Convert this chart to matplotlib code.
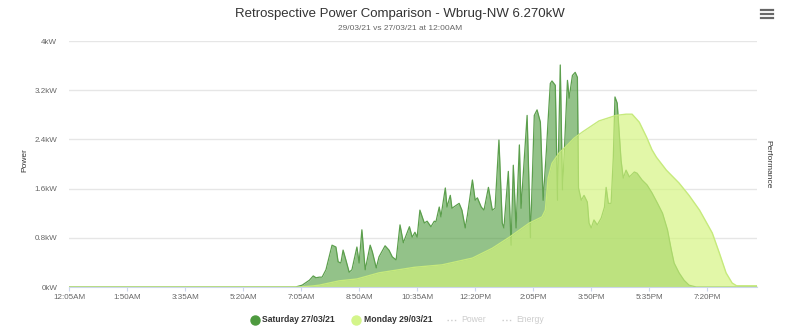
# -*- coding: utf-8 -*-
import numpy as np
import matplotlib
matplotlib.use("Agg")
import matplotlib.pyplot as plt
from matplotlib.lines import Line2D

plt.rcParams['font.family'] = ['Liberation Sans', 'DejaVu Sans']

# =====================
# data (kW)
# =====================
sat_times = ["00:05", "06:55", "07:07", "07:20", "07:27", "07:32", "07:38", "07:43", "07:50",
             "08:01", "08:08", "08:12", "08:17", "08:21", "08:26", "08:32", "08:37", "08:46",
             "08:50", "08:55", "09:01", "09:10", "09:14", "09:21", "09:26", "09:37", "09:44",
             "09:50", "09:57", "10:04", "10:10", "10:21", "10:26", "10:31", "10:35", "10:40",
             "10:48", "10:53", "11:00", "11:06", "11:09", "11:15", "11:18", "11:26", "11:29",
             "11:35", "11:38", "11:46", "11:51", "11:56", "12:02", "12:06", "12:15", "12:20",
             "12:24", "12:31", "12:36", "12:44", "12:51", "12:56", "13:03", "13:09", "13:12",
             "13:20", "13:25", "13:29", "13:34", "13:40", "13:43", "13:54", "14:00", "14:07",
             "14:12", "14:18", "14:23", "14:29", "14:32", "14:36", "14:39", "14:45", "14:49",
             "14:54", "14:58", "15:01", "15:07", "15:10", "15:16", "15:21", "15:25", "15:27",
             "15:32", "15:37", "15:43", "15:46", "15:50", "15:55", "16:01", "16:08", "16:14",
             "16:17", "16:21", "16:26", "16:30", "16:33", "16:37", "16:44", "16:48", "16:53",
             "16:59", "17:08", "17:13", "17:22", "17:31", "17:40", "17:50", "17:59", "18:08",
             "18:15", "18:20", "18:29", "18:38", "18:47", "19:00", "20:50"]
sat_kw = [0, 0, 0.03, 0.11, 0.18, 0.15, 0.16, 0.16, 0.28,
          0.68, 0.65, 0.41, 0.39, 0.60, 0.44, 0.24, 0.28, 0.65,
          0.39, 0.93, 0.28, 0.68, 0.57, 0.31, 0.49, 0.67, 0.60,
          0.49, 0.44, 1.01, 0.72, 0.98, 0.81, 0.89, 0.81, 1.25,
          1.04, 1.07, 0.98, 1.07, 1.06, 1.30, 1.14, 1.61, 1.30,
          1.49, 1.28, 1.33, 1.36, 1.25, 0.96, 1.17, 1.74, 1.41,
          1.45, 1.30, 1.25, 1.62, 1.25, 1.28, 2.39, 1.04, 0.96,
          1.88, 0.68, 1.98, 0.96, 2.31, 1.28, 2.79, 0.80, 2.79,
          2.88, 2.68, 1.41, 2.23, 2.71, 3.31, 3.35, 3.28, 1.41,
          3.61, 1.58, 2.14, 3.36, 3.07, 3.44, 3.49, 3.41, 1.61,
          1.41, 1.49, 1.38, 1.04, 0.96, 1.09, 1.01, 1.12, 1.30,
          1.62, 1.36, 1.36, 2.11, 3.09, 2.99, 2.06, 1.77, 1.90,
          1.79, 1.87, 1.85, 1.74, 1.66, 1.53, 1.36, 1.20, 0.93,
          0.60, 0.39, 0.23, 0.11, 0.03, 0, 0]

mon_times = ["00:05", "07:01", "07:25", "07:38", "08:14", "08:46", "09:26", "10:30", "11:20",
             "12:15", "12:51", "13:22", "13:58", "14:21", "14:27", "14:32", "14:39", "14:52",
             "15:05", "15:19", "15:34", "16:04", "16:35", "16:53", "17:04", "17:17", "17:30",
             "17:40", "17:48", "18:06", "18:29", "18:47", "19:06", "19:29", "19:42", "19:54",
             "20:05", "20:13", "20:50"]
mon_kw = [0, 0, 0.016, 0.03, 0.10, 0.13, 0.23, 0.32, 0.36,
          0.47, 0.63, 0.81, 1.04, 1.14, 1.25, 1.77, 2.01, 2.18,
          2.29, 2.42, 2.52, 2.70, 2.79, 2.81, 2.81, 2.68, 2.44,
          2.23, 2.11, 1.90, 1.69, 1.49, 1.25, 0.88, 0.55, 0.23,
          0.065, 0.02, 0.02]

x_labels = ["12:05AM", "1:50AM", "3:35AM", "5:20AM", "7:05AM", "8:50AM", "10:35AM",
            "12:20PM", "2:05PM", "3:50PM", "5:35PM", "7:20PM"]
y_ticks = [0, 0.8, 1.6, 2.4, 3.2, 4]
y_labels = ["0kW", "0.8kW", "1.6kW", "2.4kW", "3.2kW", "4kW"]


def to_min(t):
    h, m = t.split(":")
    return int(h) * 60 + int(m)


def main():
    sat_x = np.array([to_min(t) for t in sat_times])
    mon_x = np.array([to_min(t) for t in mon_times])

    fig = plt.figure(figsize=(8, 3.3), dpi=100)
    ax = fig.add_axes([69 / 800, 1 - 287 / 330, 688 / 800, 246 / 330])

    # Saturday (drawn first), Monday on top
    ax.fill_between(sat_x, sat_kw, color='#4c9a3b', alpha=0.6, lw=0, zorder=2)
    ax.plot(sat_x, sat_kw, color='#5c9f4d', lw=0.9, zorder=3)
    ax.fill_between(mon_x, mon_kw, color='#d3f47b', alpha=0.66, lw=0, zorder=4)
    ax.plot(mon_x, mon_kw, color='#c6ea7c', lw=1.0, zorder=5)

    ax.set_xlim(5, 1250)
    ax.set_ylim(0, 4)
    ax.set_xticks([5 + 105 * i for i in range(len(x_labels))])
    ax.set_xticklabels(x_labels)
    ax.set_yticks(y_ticks)
    ax.set_yticklabels(y_labels)
    ax.tick_params(axis='x', length=3, color='#ccd6eb', labelsize=5.8, labelcolor='#666666', pad=2)
    ax.tick_params(axis='y', length=0, labelsize=5.8, labelcolor='#666666', pad=8.5)
    ax.grid(axis='y', color='#e6e6e6', lw=1, zorder=0)
    ax.set_axisbelow(True)
    for s in ['top', 'left', 'right']:
        ax.spines[s].set_visible(False)
    ax.spines['bottom'].set_color('#ccd6eb')
    ax.spines['bottom'].set_zorder(6)

    # axis titles
    fig.text(25 / 800, 1 - 160 / 330, "Power", rotation=90, ha='center', va='center',
             fontsize=6, color='#333333')
    fig.text(768 / 800, 1 - 164 / 330, "Performance", rotation=-90, ha='center', va='center',
             fontsize=6, color='#333333')

    # title / subtitle
    fig.text(0.5, 1 - 14 / 330, "Retrospective Power Comparison - Wbrug-NW 6.270kW",
             ha='center', va='center', fontsize=9.5, color='#333333')
    fig.text(0.5, 1 - 28 / 330, "29/03/21 vs 27/03/21 at 12:00AM",
             ha='center', va='center', fontsize=6, color='#666666')

    # legend
    ly = 1 - 320 / 330
    fig.add_artist(Line2D([255 / 800], [ly], marker='o', ms=6.5, color='#4e9a3f',
                          transform=fig.transFigure, lw=0))
    fig.text(262 / 800, ly, "Saturday 27/03/21", ha='left', va='center', fontsize=6.2,
             fontweight='bold', color='#333333')
    fig.add_artist(Line2D([356 / 800], [ly], marker='o', ms=6.5, color='#d4f58a',
                          transform=fig.transFigure, lw=0))
    fig.text(364 / 800, ly, "Monday 29/03/21", ha='left', va='center', fontsize=6.2,
             fontweight='bold', color='#333333')
    fig.add_artist(Line2D([447 / 800, 458 / 800], [ly, ly], ls=':', lw=1, color='#cccccc',
                          transform=fig.transFigure))
    fig.text(461 / 800, ly, "Power", ha='left', va='center', fontsize=6.2, color='#cccccc')
    fig.add_artist(Line2D([502 / 800, 513 / 800], [ly, ly], ls=':', lw=1, color='#cccccc',
                          transform=fig.transFigure))
    fig.text(516 / 800, ly, "Energy", ha='left', va='center', fontsize=6.2, color='#cccccc')

    # menu icon
    for yy in [10, 14, 18]:
        fig.add_artist(Line2D([761 / 800, 773 / 800], [1 - yy / 330, 1 - yy / 330],
                              lw=1.6, color='#666666', transform=fig.transFigure))

    fig.savefig("out.png", dpi=100)


if __name__ == '__main__':
    main()
